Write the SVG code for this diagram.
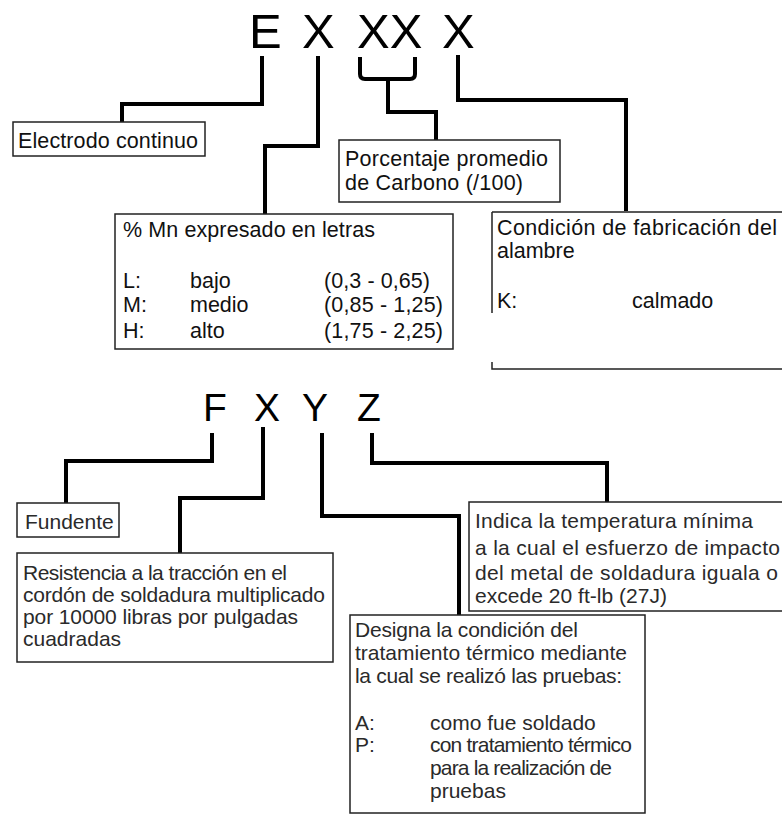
<svg xmlns="http://www.w3.org/2000/svg" width="782" height="816" viewBox="0 0 782 816">
<style>
.big{font-family:"Liberation Sans",Arial,sans-serif;fill:#000}
.t{font-family:"Liberation Sans",Arial,sans-serif;font-size:21.5px;fill:#111}
.b{font-family:"Liberation Sans",Arial,sans-serif;font-size:21px;fill:#2a2a2a}
.box{fill:#fff;stroke:#222;stroke-width:1.5}
.conn{fill:none;stroke:#000;stroke-width:4;stroke-linejoin:miter}
</style>
<rect width="782" height="816" fill="#fff"/>
<g id="title1">
<text class="big" x="249" y="48" font-size="49">E</text>
<text class="big" x="302" y="48" font-size="49">X</text>
<text class="big" x="357" y="48" font-size="49">XX</text>
<text class="big" x="442" y="48" font-size="49">X</text>
</g>
<g id="title2">
<text class="big" x="203" y="421" font-size="39">F</text>
<text class="big" x="254" y="421" font-size="39">X</text>
<text class="big" x="302" y="421" font-size="39">Y</text>
<text class="big" x="357" y="421" font-size="39">Z</text>
</g>
<g id="connectors">
<path class="conn" d="M262 56 V104 H122 V122"/>
<path class="conn" d="M318 56 V146 H265 V214"/>
<path class="conn" d="M360 57 V74 Q360 79 365 79 H410 Q415 79 415 74 V57"/>
<path class="conn" d="M388 79 V112 H436 V140"/>
<path class="conn" d="M458 55 V100 H626 V211"/>
<path class="conn" d="M212 433 V461 H66 V503"/>
<path class="conn" d="M263 427 V498 H180 V553"/>
<path class="conn" d="M322 433 V516 H459 V615"/>
<path class="conn" d="M372 433 V463 H607 V502"/>
</g>
<g id="electrodo">
<rect class="box" x="13" y="122" width="192" height="34"/>
<text class="t" x="18" y="148" textLength="180">Electrodo continuo</text>
</g>
<g id="carbono">
<rect class="box" x="339" y="140" width="221" height="62"/>
<text class="t" x="345" y="166" textLength="203">Porcentaje promedio</text>
<text class="t" x="345" y="190" textLength="178">de Carbono (/100)</text>
</g>
<g id="manganeso">
<rect class="box" x="115" y="214" width="338" height="135"/>
<text class="t" x="123" y="237" textLength="252">% Mn expresado en letras</text>
<text class="t" x="123" y="288">L:</text>
<text class="t" x="190" y="288">bajo</text>
<text class="t" x="324" y="288" textLength="106">(0,3 - 0,65)</text>
<text class="t" x="123" y="312">M:</text>
<text class="t" x="190" y="312">medio</text>
<text class="t" x="324" y="312" textLength="119">(0,85 - 1,25)</text>
<text class="t" x="123" y="338">H:</text>
<text class="t" x="190" y="338">alto</text>
<text class="t" x="324" y="338" textLength="119">(1,75 - 2,25)</text>
</g>
<g id="alambre">
<path d="M492 212 H790 M492 212 V313 M492 362 V369 H790" fill="none" stroke="#222" stroke-width="1.5"/>
<text class="t" x="497" y="235" textLength="280">Condición de fabricación del</text>
<text class="t" x="497" y="258">alambre</text>
<text class="t" x="497" y="308">K:</text>
<text class="t" x="632" y="308">calmado</text>
</g>
<g id="fundente">
<rect class="box" x="17" y="503" width="102" height="34"/>
<text class="b" x="25" y="529">Fundente</text>
</g>
<g id="resistencia">
<rect class="box" x="17" y="553" width="316" height="109"/>
<text class="b" x="23" y="580" textLength="264">Resistencia a la tracción en el</text>
<text class="b" x="23" y="602" textLength="302">cordón de soldadura multiplicado</text>
<text class="b" x="23" y="624" textLength="275">por 10000 libras por pulgadas</text>
<text class="b" x="23" y="646">cuadradas</text>
</g>
<g id="temperatura">
<rect class="box" x="469" y="502" width="320" height="109"/>
<text class="b" x="475" y="528" textLength="278">Indica la temperatura mínima</text>
<text class="b" x="475" y="555" textLength="305">a la cual el esfuerzo de impacto</text>
<text class="b" x="475" y="580" textLength="303">del metal de soldadura iguala o</text>
<text class="b" x="475" y="603" textLength="192">excede 20 ft-lb (27J)</text>
</g>
<g id="tratamiento">
<rect class="box" x="350" y="615" width="295" height="198"/>
<text class="b" x="355" y="637" textLength="223">Designa la condición del</text>
<text class="b" x="355" y="660" textLength="272">tratamiento térmico mediante</text>
<text class="b" x="355" y="683" textLength="267">la cual se realizó las pruebas:</text>
<text class="b" x="355" y="730">A:</text>
<text class="b" x="430" y="730">como fue soldado</text>
<text class="b" x="355" y="752">P:</text>
<text class="b" x="430" y="752" textLength="202">con tratamiento térmico</text>
<text class="b" x="430" y="775" textLength="182">para la realización de</text>
<text class="b" x="430" y="798">pruebas</text>
</g>
</svg>
